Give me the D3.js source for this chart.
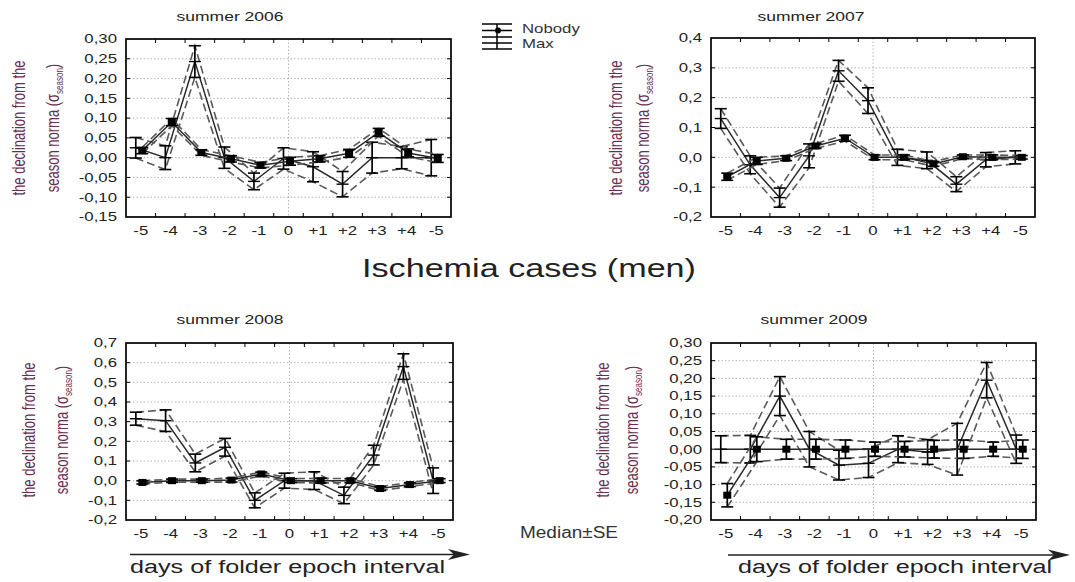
<!DOCTYPE html>
<html>
<head>
<meta charset="utf-8">
<script src="https://cdn.jsdelivr.net/npm/d3@7"></script>
<style>
  html, body { margin: 0; padding: 0; background: #fff; }
  svg { display: block; font-family: "Liberation Sans", Arial, sans-serif; }
</style>
</head>
<body>
<svg id="chart" width="1075" height="582"></svg>
<script>
// ---- data: days of the epoch interval, median ± SE per group ----
const categories = ["-5", "-4", "-3", "-2", "-1", "0", "+1", "+2", "+3", "+4", "-5"];
const seasons = ["summer 2006", "summer 2007", "summer 2008", "summer 2009"];
const seriesNames = ["Nobody", "Max"];

const nobody2006   = [0.018, 0.090, 0.013, -0.003, -0.019, -0.009, -0.003, 0.011, 0.064, 0.012, -0.002];
const nobodySE2006 = [0.008, 0.009, 0.007, 0.008, 0.007, 0.010, 0.008, 0.010, 0.010, 0.010, 0.010];
const max2006      = [0.025, 0.000, 0.243, 0.000, -0.060, -0.002, -0.023, -0.067, 0.000, 0.000, 0.000];
const maxSE2006    = [0.026, 0.030, 0.040, 0.027, 0.021, 0.027, 0.038, 0.032, 0.039, 0.028, 0.046];

const nobody2007   = [-0.065, -0.012, -0.003, 0.038, 0.064, 0.000, 0.000, -0.022, 0.002, 0.000, 0.000];
const nobodySE2007 = [0.012, 0.012, 0.008, 0.008, 0.010, 0.008, 0.008, 0.008, 0.006, 0.008, 0.006];
const max2007      = [0.130, -0.025, -0.135, 0.005, 0.290, 0.190, 0.000, -0.010, -0.090, -0.008, 0.000];
const maxSE2007    = [0.033, 0.030, 0.032, 0.040, 0.035, 0.043, 0.027, 0.028, 0.025, 0.024, 0.022];

const nobody2008   = [-0.009, 0.000, 0.000, 0.003, 0.034, 0.000, 0.000, 0.000, -0.040, -0.020, 0.000];
const nobodySE2008 = [0.008, 0.008, 0.008, 0.010, 0.010, 0.010, 0.012, 0.010, 0.010, 0.010, 0.010];
const max2008      = [0.315, 0.305, 0.090, 0.170, -0.100, 0.000, 0.000, -0.075, 0.130, 0.580, 0.000];
const maxSE2008    = [0.033, 0.055, 0.045, 0.045, 0.038, 0.038, 0.045, 0.042, 0.050, 0.065, 0.065];

const nobody2009   = [-0.130, 0.000, 0.000, 0.000, 0.000, 0.000, 0.000, 0.000, 0.000, 0.000, 0.000];
const nobodySE2009 = [0.033, 0.035, 0.028, 0.028, 0.026, 0.020, 0.022, 0.025, 0.026, 0.020, 0.026];
const max2009      = [0.000, 0.000, 0.150, 0.000, -0.045, -0.040, 0.000, -0.008, 0.000, 0.195, 0.000];
const maxSE2009    = [0.038, 0.039, 0.055, 0.050, 0.042, 0.040, 0.038, 0.035, 0.073, 0.050, 0.040];

const yTicks2006 = [-0.15, -0.10, -0.05, 0.00, 0.05, 0.10, 0.15, 0.20, 0.25, 0.30];
const yTicks2007 = [-0.2, -0.1, 0.0, 0.1, 0.2, 0.3, 0.4];
const yTicks2008 = [-0.2, -0.1, 0.0, 0.1, 0.2, 0.3, 0.4, 0.5, 0.6, 0.7];
const yTicks2009 = [-0.20, -0.15, -0.10, -0.05, 0.00, 0.05, 0.10, 0.15, 0.20, 0.25, 0.30];

// ---- panel geometry ----
const panels = [
  { title: seasons[0], nobody: nobody2006, nobodySE: nobodySE2006, max: max2006, maxSE: maxSE2006, ticks: yTicks2006, decimals: 2,
    left: 126, right: 451, top: 39, bottom: 217, titleX: 230, titleY: 21, ytX: [24.5, 59], ytY: 128 },
  { title: seasons[1], nobody: nobody2007, nobodySE: nobodySE2007, max: max2007, maxSE: maxSE2007, ticks: yTicks2007, decimals: 1,
    left: 711, right: 1035, top: 38, bottom: 217, titleX: 811, titleY: 21, ytX: [621.5, 649], ytY: 128 },
  { title: seasons[2], nobody: nobody2008, nobodySE: nobodySE2008, max: max2008, maxSE: maxSE2008, ticks: yTicks2008, decimals: 1,
    left: 126, right: 453, top: 343, bottom: 520, titleX: 230, titleY: 324, ytX: [34.5, 68], ytY: 430 },
  { title: seasons[3], nobody: nobody2009, nobodySE: nobodySE2009, max: max2009, maxSE: maxSE2009, ticks: yTicks2009, decimals: 2,
    left: 711, right: 1036, top: 343, bottom: 520, titleX: 814, titleY: 324, ytX: [608.5, 638], ytY: 430 }
];

const SX = 1.4;               // horizontal widening of the lettering
const INK = "#222";
const AXIS_TITLE = "#6a2d52";
const svg = d3.select("#chart");

const locale = d3.formatLocale({ decimal: ",", thousands: ".", grouping: [3], currency: ["", ""], minus: "-" });

function wideText(parent, x, y, str, size, anchor, fill) {
  return parent.append("text")
    .attr("transform", `translate(${x},${y}) scale(${SX},1)`)
    .attr("text-anchor", anchor || "start")
    .attr("font-size", size)
    .attr("fill", fill || INK)
    .text(str);
}

panels.forEach(p => {
  const g = svg.append("g");
  const x = d3.scaleBand().domain(d3.range(categories.length)).range([p.left, p.right]);
  const y = d3.scaleLinear().domain([p.ticks[0], p.ticks[p.ticks.length - 1]]).range([p.bottom, p.top]);
  const bw = x.bandwidth();
  const cx = i => x(i) + bw / 2;

  // grid
  g.append("g").selectAll("line").data(p.ticks.slice(1, -1)).join("line")
    .attr("x1", p.left).attr("x2", p.right)
    .attr("y1", d => y(d)).attr("y2", d => y(d))
    .attr("stroke", "#b5b5b5").attr("stroke-width", 1).attr("stroke-dasharray", "1.5,2");
  g.append("line")
    .attr("x1", cx(5)).attr("x2", cx(5)).attr("y1", p.top).attr("y2", p.bottom)
    .attr("stroke", "#b5b5b5").attr("stroke-width", 1).attr("stroke-dasharray", "1.5,2");

  // inner tick marks
  const tickLen = 4;
  const bounds = d3.range(1, categories.length).map(i => x(i));
  g.append("g").selectAll("line").data(bounds).join("line")
    .attr("x1", d => d).attr("x2", d => d).attr("y1", p.top).attr("y2", p.top + tickLen)
    .attr("stroke", "#000");
  g.append("g").selectAll("line").data(bounds).join("line")
    .attr("x1", d => d).attr("x2", d => d).attr("y1", p.bottom).attr("y2", p.bottom - tickLen)
    .attr("stroke", "#000");
  g.append("g").selectAll("line").data(p.ticks.slice(1, -1)).join("line")
    .attr("x1", p.right).attr("x2", p.right - tickLen).attr("y1", d => y(d)).attr("y2", d => y(d))
    .attr("stroke", "#000");
  g.append("g").selectAll("line").data(p.ticks.slice(1, -1)).join("line")
    .attr("x1", p.left).attr("x2", p.left + tickLen).attr("y1", d => y(d)).attr("y2", d => y(d))
    .attr("stroke", "#000");

  // series
  const groups = [
    { vals: p.max, se: p.maxSE, off: -5, marker: false },
    { vals: p.nobody, se: p.nobodySE, off: 1.5, marker: true }
  ];
  groups.forEach(s => {
    const pts = s.vals.map((v, i) => ({ x: cx(i) + s.off, v: v, se: s.se[i] }));
    const band = k => d3.line().x(d => d.x).y(d => y(d.v + k * d.se));
    [1, -1].forEach(k => {
      g.append("path").attr("d", band(k)(pts))
        .attr("fill", "none").attr("stroke", "#5a5a5a").attr("stroke-width", 1.6)
        .attr("stroke-dasharray", "8,4");
    });
    g.append("path").attr("d", band(0)(pts))
      .attr("fill", "none").attr("stroke", "#2a2a2a").attr("stroke-width", 1.5);
    const eb = g.append("g").selectAll("g").data(pts).join("g");
    const cap = 6;
    eb.append("line").attr("x1", d => d.x).attr("x2", d => d.x)
      .attr("y1", d => y(d.v + d.se)).attr("y2", d => y(d.v - d.se))
      .attr("stroke", "#000").attr("stroke-width", 1.7);
    eb.append("line").attr("x1", d => d.x - cap).attr("x2", d => d.x + cap)
      .attr("y1", d => y(d.v + d.se)).attr("y2", d => y(d.v + d.se))
      .attr("stroke", "#000").attr("stroke-width", 1.6);
    eb.append("line").attr("x1", d => d.x - cap).attr("x2", d => d.x + cap)
      .attr("y1", d => y(d.v - d.se)).attr("y2", d => y(d.v - d.se))
      .attr("stroke", "#000").attr("stroke-width", 1.6);
    if (s.marker) {
      eb.append("rect").attr("x", d => d.x - 4).attr("y", d => y(d.v) - 3.5)
        .attr("width", 8).attr("height", 7).attr("fill", "#000");
    } else {
      eb.append("line").attr("x1", d => d.x - cap).attr("x2", d => d.x + cap)
        .attr("y1", d => y(d.v)).attr("y2", d => y(d.v))
        .attr("stroke", "#000").attr("stroke-width", 1.4);
    }
  });

  // frame
  g.append("rect").attr("x", p.left).attr("y", p.top)
    .attr("width", p.right - p.left).attr("height", p.bottom - p.top)
    .attr("fill", "none").attr("stroke", "#000").attr("stroke-width", 1.7);

  // axes
  const fmt = locale.format("." + p.decimals + "f");
  const ya = g.append("g").attr("transform", `translate(${p.left},0)`)
    .call(d3.axisLeft(y).tickValues(p.ticks).tickFormat(fmt).tickSize(0).tickPadding(0));
  ya.select(".domain").remove();
  ya.attr("font-family", null).attr("font-size", null);
  ya.selectAll(".tick text").attr("x", -9 / SX).attr("transform", `scale(${SX},1)`)
    .attr("font-size", 12).attr("fill", INK);

  const xa = g.append("g").attr("transform", `translate(0,${p.bottom})`)
    .call(d3.axisBottom(x).tickFormat(i => categories[i]).tickSize(0).tickPadding(9));
  xa.select(".domain").remove();
  xa.attr("font-family", null).attr("font-size", null);
  xa.selectAll(".tick text").attr("transform", `scale(${SX},1)`)
    .attr("font-size", 12).attr("fill", INK);

  // titles
  wideText(g, p.titleX, p.titleY, p.title, 12.5, "middle");

  g.append("text")
    .attr("transform", `translate(${p.ytX[0]},${p.ytY}) scale(${SX},1) rotate(-90)`)
    .attr("text-anchor", "middle").attr("font-size", 13).attr("fill", AXIS_TITLE)
    .text("the declination from the");
  const t2 = g.append("text")
    .attr("transform", `translate(${p.ytX[1]},${p.ytY}) scale(${SX},1) rotate(-90)`)
    .attr("text-anchor", "middle").attr("font-size", 13).attr("fill", AXIS_TITLE);
  t2.append("tspan").text("season norma (\u03c3");
  t2.append("tspan").attr("font-size", 8).attr("dy", 3).text("season");
  t2.append("tspan").attr("dy", -3).text(")");
});

// shared heading
svg.append("text").attr("x", 362).attr("y", 277)
  .attr("font-size", 25).attr("fill", INK)
  .attr("textLength", 334).attr("lengthAdjust", "spacingAndGlyphs")
  .text("Ischemia cases (men)");

svg.append("text").attr("x", 520).attr("y", 538)
  .attr("font-size", 16).attr("fill", "#333")
  .attr("textLength", 98).attr("lengthAdjust", "spacingAndGlyphs")
  .text("Median\u00b1SE");

// legend
const lg = svg.append("g");
const lx0 = 482, lx1 = 512, lxc = 497;
lg.append("line").attr("x1", lxc).attr("x2", lxc).attr("y1", 24).attr("y2", 49).attr("stroke", "#000").attr("stroke-width", 1.5);
[24, 30.5, 37, 43, 49].forEach(yy => {
  lg.append("line").attr("x1", lx0).attr("x2", lx1).attr("y1", yy).attr("y2", yy).attr("stroke", "#000").attr("stroke-width", 1.5);
});
lg.append("circle").attr("cx", lxc + 1).attr("cy", 30.5).attr("r", 3).attr("fill", "#000");
wideText(lg, 522, 32.5, seriesNames[0], 12, "start", "#333");
wideText(lg, 522, 47.5, seriesNames[1], 12, "start", "#333");

// interval arrows with captions
const arrows = [
  { x1: 130, x2: 470, y: 554.5, tx: 130, tw: 315 },
  { x1: 728, x2: 1070, y: 555, tx: 738, tw: 314 }
];
arrows.forEach(a => {
  svg.append("line").attr("x1", a.x1).attr("x2", a.x2 - 16).attr("y1", a.y).attr("y2", a.y)
    .attr("stroke", "#222").attr("stroke-width", 1.6);
  svg.append("path")
    .attr("d", `M${a.x2},${a.y} L${a.x2 - 22},${a.y - 5.5} L${a.x2 - 16},${a.y} L${a.x2 - 22},${a.y + 5.5} Z`)
    .attr("fill", "#222");
  svg.append("text").attr("x", a.tx).attr("y", 573)
    .attr("font-size", 18).attr("fill", INK)
    .attr("textLength", a.tw).attr("lengthAdjust", "spacingAndGlyphs")
    .text("days of folder epoch interval");
});
</script>
</body>
</html>
